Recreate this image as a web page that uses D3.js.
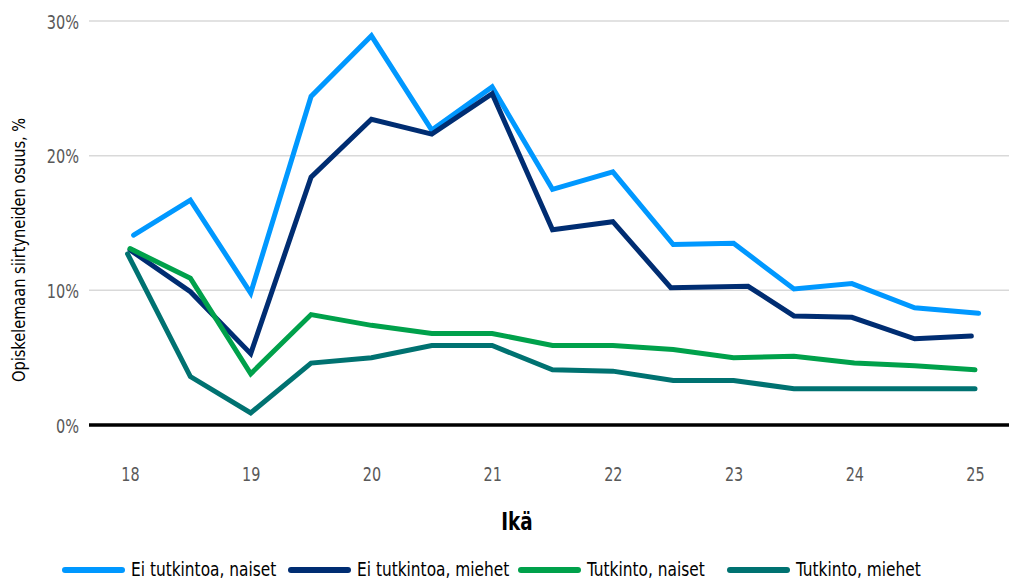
<!DOCTYPE html>
<html>
<head>
<meta charset="utf-8">
<script src="https://cdn.jsdelivr.net/npm/d3@7"></script>
<style>
  html, body { margin: 0; padding: 0; background: #fff; }
  svg text { font-family: 'Liberation Sans Narrow', 'DejaVu Sans Condensed', 'Roboto', sans-serif; }
</style>
</head>
<body>
<svg id="chart" width="1009" height="581"></svg>
<script>
// x values (age in years) per series
const agesEiNaiset = [18.03, 18.5, 19, 19.5, 20, 20.5, 21, 21.5, 22, 22.5, 23, 23.5, 23.98, 24.5, 25.03]
const agesEiMiehet = [18.0, 18.5, 19, 19.5, 20, 20.5, 21, 21.5, 22, 22.48, 23.12, 23.5, 23.98, 24.5, 24.97]
const agesTutkNaiset = [18.0, 18.5, 19, 19.5, 20, 20.5, 21, 21.5, 22, 22.5, 23, 23.5, 24, 24.5, 25]
const agesTutkMiehet = [17.98, 18.5, 19, 19.5, 20, 20.5, 21, 21.5, 22, 22.5, 23, 23.5, 24, 24.5, 25]

// share moved on to studies, %
const eiTutkintoaNaiset = [14.1, 16.7, 9.8, 24.4, 28.9, 21.9, 25.1, 17.5, 18.8, 13.4, 13.5, 10.1, 10.5, 8.7, 8.3]
const eiTutkintoaMiehet = [13.0, 9.9, 5.3, 18.4, 22.7, 21.6, 24.6, 14.5, 15.1, 10.2, 10.3, 8.1, 8.0, 6.4, 6.6]
const tutkintoNaiset = [13.1, 10.9, 3.8, 8.2, 7.4, 6.8, 6.8, 5.9, 5.9, 5.6, 5.0, 5.1, 4.6, 4.4, 4.1]
const tutkintoMiehet = [12.7, 3.6, 0.9, 4.6, 5.0, 5.9, 5.9, 4.1, 4.0, 3.3, 3.3, 2.7, 2.7, 2.7, 2.7]

const seriesNames = ['Ei tutkintoa, naiset', 'Ei tutkintoa, miehet', 'Tutkinto, naiset', 'Tutkinto, miehet']
const xTicks = [18, 19, 20, 21, 22, 23, 24, 25]
const yTicks = [0, 10, 20, 30]

const colors = ['#0098ff', '#002d72', '#00a14b', '#007271']
const lineWidth = 5

const series = [
  { name: seriesNames[0], ages: agesEiNaiset, values: eiTutkintoaNaiset, color: colors[0] },
  { name: seriesNames[1], ages: agesEiMiehet, values: eiTutkintoaMiehet, color: colors[1] },
  { name: seriesNames[2], ages: agesTutkNaiset, values: tutkintoNaiset, color: colors[2] },
  { name: seriesNames[3], ages: agesTutkMiehet, values: tutkintoMiehet, color: colors[3] }
]

// the original uses a condensed face, squeeze the fallback font sideways
function squeeze(sel, factor) {
  sel.each(function () {
    const w = this.getComputedTextLength()
    d3.select(this)
      .attr('textLength', w * factor)
      .attr('lengthAdjust', 'spacingAndGlyphs')
  })
}

const svg = d3.select('#chart')
const plot = { left: 89, right: 1009, top: 21, bottom: 425 }

const x = d3.scaleLinear().domain([18, 25]).range([130, 975])
const y = d3.scaleLinear().domain([0, 30]).range([plot.bottom, plot.top])

// gridlines
svg.append('g')
  .selectAll('line')
  .data(yTicks.filter(d => d > 0))
  .enter()
  .append('line')
  .attr('x1', plot.left)
  .attr('x2', plot.right)
  .attr('y1', d => y(d))
  .attr('y2', d => y(d))
  .attr('stroke', '#d9d9d9')
  .attr('stroke-width', 1.5)

// y tick labels
const yAxis = svg.append('g')
  .attr('transform', 'translate(79,1)')
  .call(d3.axisLeft(y).tickValues(yTicks).tickSize(0).tickPadding(0).tickFormat(d => d + '%'))
yAxis.select('.domain').remove()
yAxis.selectAll('text')
  .attr('fill', '#595959')
  .style('font-size', '19px')
  .call(squeeze, 0.85)

// x tick labels
const xAxis = svg.append('g')
  .attr('transform', 'translate(0,467)')
  .call(d3.axisBottom(x).tickValues(xTicks).tickSize(0).tickPadding(0).tickFormat(d3.format('d')))
xAxis.select('.domain').remove()
xAxis.selectAll('text')
  .attr('fill', '#595959')
  .style('font-size', '20px')
  .call(squeeze, 0.8)

// lines
const line = d3.line()
  .x(d => x(d[0]))
  .y(d => y(d[1]))

svg.append('g')
  .selectAll('path')
  .data(series)
  .enter()
  .append('path')
  .attr('fill', 'none')
  .attr('stroke', d => d.color)
  .attr('stroke-width', lineWidth)
  .attr('stroke-linecap', 'round')
  .attr('stroke-linejoin', 'miter')
  .attr('d', d => line(d.ages.map((a, i) => [a, d.values[i]])))

// zero line
svg.append('line')
  .attr('x1', plot.left)
  .attr('x2', plot.right)
  .attr('y1', y(0))
  .attr('y2', y(0))
  .attr('stroke', '#000')
  .attr('stroke-width', 3.5)

// axis titles
svg.append('text')
  .attr('x', 517)
  .attr('y', 530)
  .attr('text-anchor', 'middle')
  .style('font-size', '24px')
  .style('font-weight', 700)
  .text('Ikä')
  .call(squeeze, 0.85)

svg.append('text')
  .attr('transform', 'translate(25,250) rotate(-90)')
  .attr('text-anchor', 'middle')
  .style('font-size', '18px')
  .text('Opiskelemaan siirtyneiden osuus, %')
  .call(squeeze, 0.9)

// legend
const legendX = [65, 291, 521, 730]
const legend = svg.append('g')
  .selectAll('g')
  .data(series)
  .enter()
  .append('g')
  .attr('transform', (d, i) => 'translate(' + legendX[i] + ',570)')

legend.append('line')
  .attr('x1', 0)
  .attr('x2', 57)
  .attr('stroke', d => d.color)
  .attr('stroke-width', 6)
  .attr('stroke-linecap', 'round')

legend.append('text')
  .attr('x', 66)
  .attr('y', 6)
  .style('font-size', '19px')
  .text(d => d.name)
  .call(squeeze, 0.9)
</script>
</body>
</html>
